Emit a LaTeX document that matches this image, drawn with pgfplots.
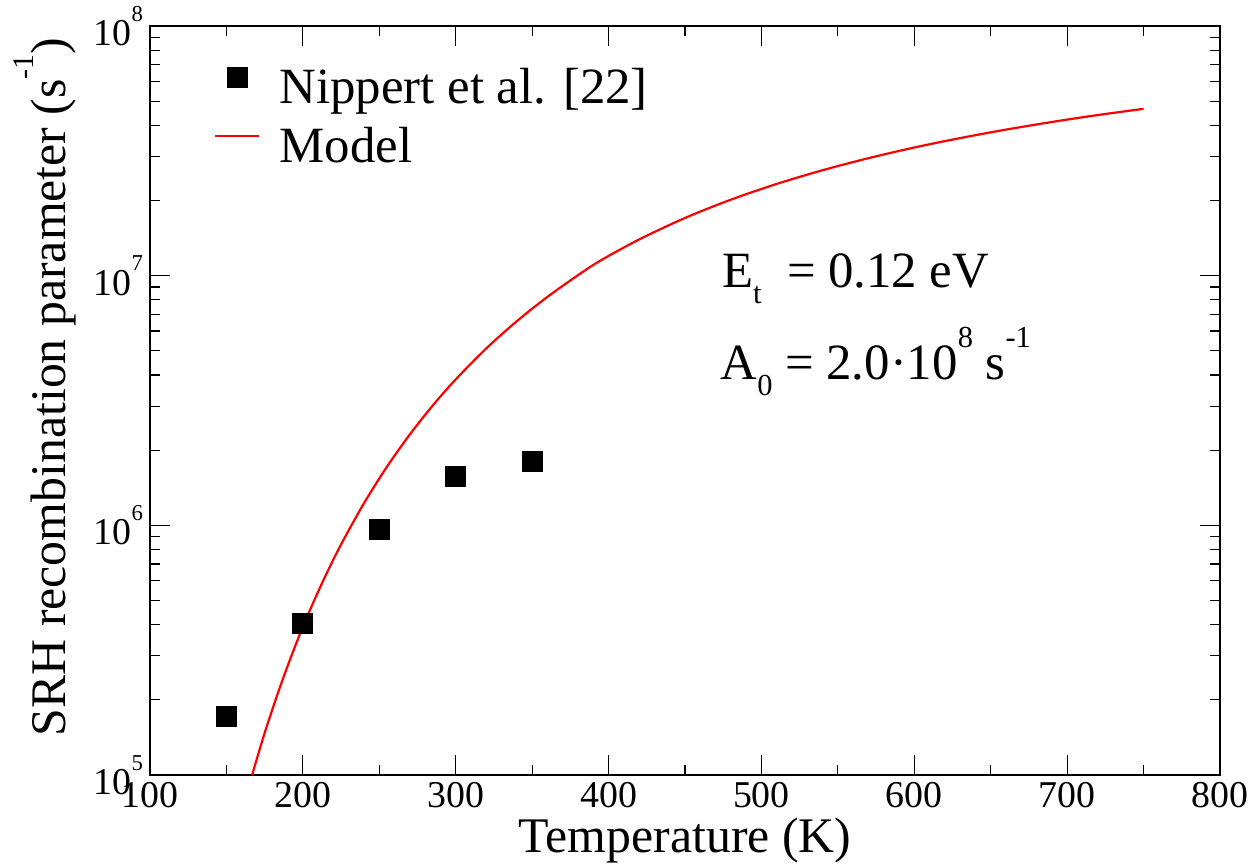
\documentclass[border=0pt]{standalone}
\usepackage{fontspec}
\setmainfont{Liberation Serif}
\usepackage{graphicx}
\usepackage{pgfplots}
\pgfplotsset{compat=1.18}
\newcommand{\sups}[1]{\raisebox{0.64em}{\scalebox{0.6}{#1}}}
\newcommand{\subs}[1]{\raisebox{-0.3em}{\scalebox{0.6}{#1}}}
\begin{document}
\begin{tikzpicture}
\begin{axis}[
  name=ax,
  scale only axis,
  width=535bp, height=374.5bp,
  xmin=100, xmax=800,
  ymode=log, ymin=1e5, ymax=1e8,
  axis line style={line width=0.9bp},
  every tick/.style={line width=0.6bp, black},
  tick align=inside,
  major tick length=10bp, minor tick length=5bp,
  xtick={100,200,300,400,500,600,700,800},
  xticklabels={100,200,300,400,500,600,700,800},
  minor xtick={150,250,350,450,550,650,750},
  ytick={1e5,1e6,1e7,1e8},
  yticklabels={10\sups{5},10\sups{6},10\sups{7},10\sups{8}},
  minor ytick={2e5,3e5,4e5,5e5,6e5,7e5,8e5,9e5,2e6,3e6,4e6,5e6,6e6,7e6,8e6,9e6,2e7,3e7,4e7,5e7,6e7,7e7,8e7,9e7},
  tick label style={font=\fontsize{19}{19}\selectfont},
  xlabel={Temperature (K)},
  ylabel={SRH recombination parameter (s\sups{-1})},
  label style={font=\fontsize{25}{26}\selectfont},
  xlabel style={at={(axis description cs:0.5,-0.104)}, anchor=base},
  ylabel style={at={(axis description cs:-0.098,0.518)}, anchor=center},
  legend image code/.code={\draw[mark repeat=2,mark phase=2,#1] plot coordinates {(0bp,7bp) (10.75bp,7bp) (21.5bp,7bp)};},
  legend style={draw=none, fill=none, inner sep=0pt,
    at={([shift={(32bp,-20.5bp)}]rel axis cs:0,1)}, anchor=north west,
    font=\fontsize{25.5}{28}\selectfont, row sep=5.5bp,
    nodes={inner sep=0pt, text height=18bp, text depth=6bp},
    /tikz/every odd column/.append style={column sep=10bp}},
  legend cell align=left,
  clip=false,
]
\addplot[only marks, mark=square*, mark size=5bp, black] coordinates {
(150,1.71e5) (200,4.06e5) (250,9.6e5) (300,1.57e6) (350,1.81e6)
};
\addlegendentry{Nippert et al. [22]}
\addplot[red, line width=1.1bp, no marks, smooth] coordinates {
(166.8,1.0e5) (175,1.472e5) (185,2.246e5) (195,3.285e5) (205,4.627e5)
(215,6.314e5) (225,8.381e5) (240,1.226e6) (255,1.716e6) (270,2.312e6)
(285,3.020e6) (300,3.841e6) (320,5.110e6) (340,6.572e6) (360,8.221e6)
(380,1.004e7) (394.6,1.148e7) (420,1.396e7) (450,1.702e7) (480,2.015e7)
(510,2.330e7) (540,2.644e7) (570,2.954e7) (600,3.260e7) (630,3.556e7)
(660,3.846e7) (690,4.125e7) (720,4.398e7) (750,4.656e7)
};
\addlegendentry{Model}
\node[anchor=base west, font=\fontsize{25.5}{28}\selectfont, inner sep=0pt] at (axis cs:474,8.93e6) {E\subs{t}\ \ = 0.12 eV};
\node[anchor=base west, font=\fontsize{25.5}{28}\selectfont, inner sep=0pt] at (axis cs:473,3.82e6) {A\subs{0} = 2.0·10\sups{8} s\sups{-1}};
\end{axis}
\pgfresetboundingbox
\path[use as bounding box] ([shift={(-75bp,-45.5bp)}]ax.south west) rectangle ([shift={(17.5bp,13bp)}]ax.north east);
\end{tikzpicture}
\end{document}
